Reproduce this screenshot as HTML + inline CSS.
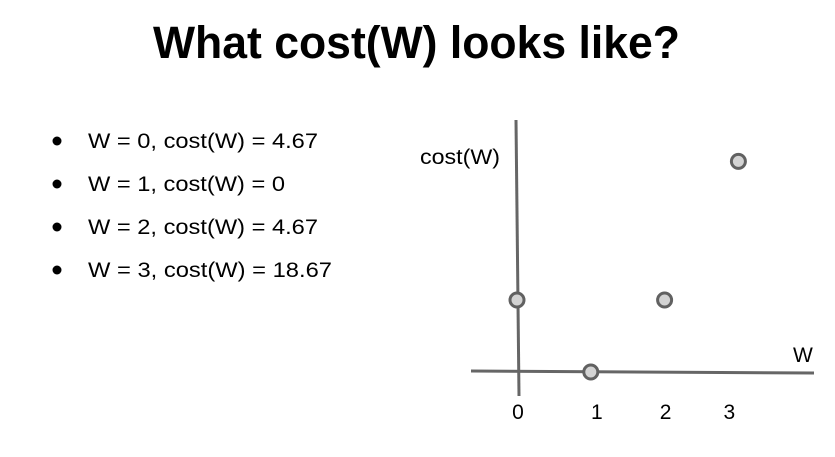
<!DOCTYPE html>
<html><head><meta charset="utf-8"><style>
html,body{margin:0;padding:0;background:#fff;}
svg{display:block;font-family:"Liberation Sans",sans-serif;}
</style></head><body>
<svg width="835" height="457" viewBox="0 0 835 457">
<text x="153" y="58" font-size="45" font-weight="bold" textLength="527" lengthAdjust="spacingAndGlyphs">What cost(W) looks like?</text>
<g id="bullets"></g>
<g id="chart">
<line x1="516" y1="120" x2="519" y2="396" stroke="#666" stroke-width="3"/>
<line x1="471" y1="371" x2="814" y2="373" stroke="#666" stroke-width="3"/>
<text x="420" y="164" font-size="21" textLength="80" lengthAdjust="spacingAndGlyphs">cost(W)</text>
<text x="793" y="362" font-size="21">W</text>
<g id="ticks"></g>
<g id="points"></g>
</g>
</svg>
<script>
const bulletLines = ["W = 0, cost(W) = 4.67","W = 1, cost(W) = 0","W = 2, cost(W) = 4.67","W = 3, cost(W) = 18.67"];
const wValues = [0, 1, 2, 3];
const costValues = [4.67, 0, 4.67, 18.67];
const tickLabels = ["0", "1", "2", "3"];
const NS = "http://www.w3.org/2000/svg";
function xScale(w){ return 517 + 73.8 * w; }
function yScale(c){ return 372 - 21.8 * Math.pow(c, 0.775); }
const bulletWidths = [230, 197, 230, 244];
const bl = document.getElementById('bullets');
bulletLines.forEach((t, i) => {
  const y = 148 + i * 43;
  const d = document.createElementNS(NS, 'circle');
  d.setAttribute('cx', 57); d.setAttribute('cy', y - 7); d.setAttribute('r', 4.5);
  d.setAttribute('fill', '#000');
  
  
  bl.appendChild(d);
  const tx = document.createElementNS(NS, 'text');
  tx.setAttribute('x', 88); tx.setAttribute('y', y); tx.setAttribute('font-size', 21);
  tx.setAttribute('textLength', bulletWidths[i]);
  tx.setAttribute('lengthAdjust', 'spacingAndGlyphs');
  tx.textContent = t;
  
  
  bl.appendChild(tx);
});
const tk = document.getElementById('ticks');
const tickOffsets = [1, 6, 1, -9];
tickLabels.forEach((t, i) => {
  const tx = document.createElementNS(NS, 'text');
  tx.setAttribute('x', xScale(wValues[i]) + tickOffsets[i]);
  tx.setAttribute('y', 419); tx.setAttribute('font-size', 21);
  tx.setAttribute('text-anchor', 'middle');
  tx.textContent = t;
  
  
  tk.appendChild(tx);
});
const pts = document.getElementById('points');
wValues.forEach((w, i) => {
  const c = document.createElementNS(NS, 'circle');
  c.setAttribute('cx', xScale(w)); c.setAttribute('cy', yScale(costValues[i]));
  c.setAttribute('r', 7); c.setAttribute('fill', '#d3d3d3');
  c.setAttribute('stroke', '#616161'); c.setAttribute('stroke-width', 3);
  
  
  pts.appendChild(c);
});
</script>
</body></html>
